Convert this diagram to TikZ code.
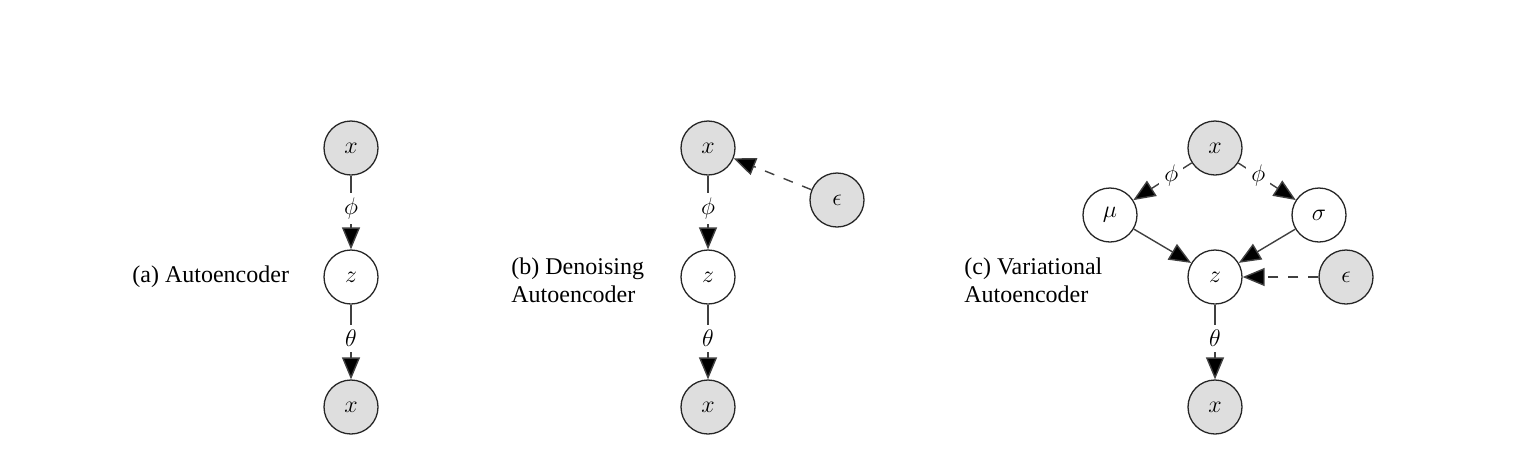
\documentclass[tikz,border=0pt]{standalone}
\usepackage{fontspec}
\setmainfont{Liberation Serif}
\usetikzlibrary{arrows.meta}
\begin{document}
\begin{tikzpicture}[x=0.5pt,y=-0.5pt,
  var/.style={circle,draw=black!85,line width=0.65pt,minimum size=27pt,inner sep=0pt,font=\fontsize{13}{15}\selectfont},
  obs/.style={var,fill=black!13},
  lat/.style={var,fill=white},
  arr/.style={draw=black!75,line width=0.7pt,-{Triangle[length=11pt,width=9pt,fill=black]}},
  darr/.style={arr,dash pattern=on 5pt off 5pt},
  lab/.style={fill=white,inner sep=2.5pt,font=\fontsize{13}{15}\selectfont},
  captxt/.style={anchor=west,align=left,inner sep=0pt,font=\fontsize{12}{14}\selectfont}]
\useasboundingbox (0,0) rectangle (1524,472);
% (a)
\node[obs] (ax) at (351,148) {$x$};
\node[lat] (az) at (351,277) {$z$};
\node[obs] (ay) at (351,407) {$x$};
\draw[arr] (ax) -- node[lab,pos=0.45]{$\phi$} (az);
\draw[arr] (az) -- node[lab,pos=0.45]{$\theta$} (ay);
\node[captxt] (ac) at (132,277) {(a) Autoencoder};
% (b)
\node[obs] (bx) at (708,148) {$x$};
\node[obs] (be) at (837,200) {$\epsilon$};
\node[lat] (bz) at (708,277) {$z$};
\node[obs] (by) at (708,407) {$x$};
\draw[arr] (bx) -- node[lab,pos=0.45]{$\phi$} (bz);
\draw[arr] (bz) -- node[lab,pos=0.45]{$\theta$} (by);
\draw[darr] (be) -- (bx);
\node[captxt] (bc) at (511,280) {(b) Denoising\\Autoencoder};
% (c)
\node[obs] (cx) at (1215,148) {$x$};
\node[lat] (cm) at (1110,215) {$\mu$};
\node[lat] (cs) at (1319,215) {$\sigma$};
\node[lat] (cz) at (1215,277) {$z$};
\node[obs] (ce) at (1346,277) {$\epsilon$};
\node[obs] (cy) at (1215,407) {$x$};
\draw[arr] (cx) -- node[lab,pos=0.35]{$\phi$} (cm);
\draw[arr] (cx) -- node[lab,pos=0.35]{$\phi$} (cs);
\draw[arr] (cm) -- (cz);
\draw[arr] (cs) -- (cz);
\draw[darr] (ce) -- (cz);
\draw[arr] (cz) -- node[lab,pos=0.45]{$\theta$} (cy);
\node[captxt] (cc) at (964,280) {(c) Variational\\Autoencoder};
\end{tikzpicture}
\end{document}
